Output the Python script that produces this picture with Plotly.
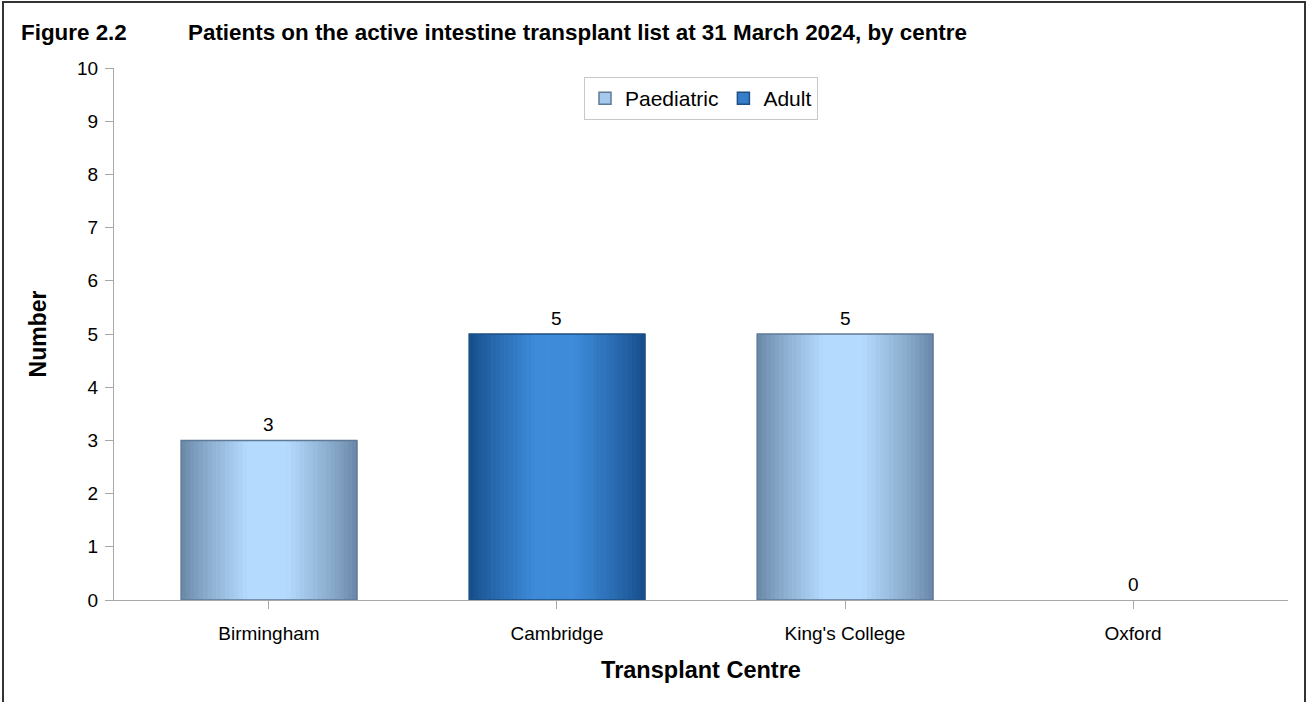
import plotly.graph_objects as go

# ---- data ----
centres = ["Birmingham", "Cambridge", "King's College", "Oxford"]
paediatric = [3, 0, 5, 0]
adult = [0, 5, 0, 0]
totals = [p + a for p, a in zip(paediatric, adult)]

title_num = "Figure 2.2"
title_txt = "Patients on the active intestine transplant list at 31 March 2024, by centre"

FONT = "Arial, 'Liberation Sans', sans-serif"
BAR_W = 0.61
N_SLICES = 40


def mix(c1, c2, t):
    return "rgb(%d,%d,%d)" % tuple(round(a + (b - a) * t) for a, b in zip(c1, c2))


def profile(u):
    # cylinder-like shading: dark edges, light band slightly left of centre
    lo, hi = 0.38, 0.60
    if u < lo:
        t = u / lo
    elif u > hi:
        t = (1 - u) / (1 - hi)
    else:
        t = 1.0
    return max(0.0, min(1.0, t)) ** 0.85


series = [
    dict(name="Paediatric", values=paediatric,
         edge=(104, 134, 166), centre=(180, 218, 253), line="#5f7a96"),
    dict(name="Adult", values=adult,
         edge=(20, 76, 136), centre=(62, 139, 218), line="#1d4f82"),
]

fig = go.Figure()

for s in series:
    sw = BAR_W / N_SLICES
    for i in range(N_SLICES):
        u = (i + 0.5) / N_SLICES
        fig.add_trace(go.Bar(
            x=centres, y=s["values"],
            width=sw * 1.15, offset=-BAR_W / 2 + i * sw,
            marker=dict(color=mix(s["edge"], s["centre"], profile(u)), line=dict(width=0)),
            showlegend=False, hoverinfo="skip",
        ))
    # outline
    fig.add_trace(go.Bar(
        x=centres, y=s["values"], width=BAR_W, offset=-BAR_W / 2,
        marker=dict(color="rgba(0,0,0,0)",
                    line=dict(width=1.5,
                              color=[s["line"] if v > 0 else "rgba(0,0,0,0)" for v in s["values"]])),
        showlegend=False, hoverinfo="skip",
    ))

# legend entries
for s in series:
    fig.add_trace(go.Bar(
        x=[None], y=[None], name=s["name"],
        marker=dict(color=mix(s["edge"], s["centre"], 0.8), line=dict(width=1.5, color=s["line"])),
    ))

# value labels
value_labels = [dict(x=c, y=t, text=str(t), xref="x", yref="y", showarrow=False,
                     yanchor="bottom", yshift=3, font=dict(family=FONT, size=19, color="black"))
                for c, t in zip(centres, totals)]

axis_col = "#a8a8a8"
fig.update_layout(
    width=1307, height=702,
    margin=dict(l=114, r=19, t=68, b=102),
    paper_bgcolor="white", plot_bgcolor="white",
    barmode="overlay",
    font=dict(family=FONT, color="black"),
    legend=dict(orientation="h", x=0.5, xanchor="center", y=0.983, yanchor="top",
                bgcolor="white", bordercolor="#c8c8c8", borderwidth=1,
                font=dict(size=21, family=FONT), itemwidth=30),
    xaxis=dict(type="category", range=[-0.538, 3.538], showline=True, linecolor=axis_col,
               linewidth=1, ticks="outside", ticklen=8, tickcolor=axis_col, showgrid=False,
               tickfont=dict(size=19, family=FONT), ticklabelstandoff=8,
               title=dict(text="<b>Transplant Centre</b>", font=dict(size=23.5, family=FONT), standoff=18)),
    yaxis=dict(range=[0, 10], dtick=1, showline=True, linecolor=axis_col, linewidth=1,
               ticks="outside", ticklen=8, tickcolor=axis_col, showgrid=False, zeroline=False,
               tickfont=dict(size=19, family=FONT), ticklabelstandoff=3,
               title=dict(text="<b>Number</b>", font=dict(size=23, family=FONT), standoff=24)),
    shapes=[dict(type="rect", xref="paper", yref="paper",
                 x0=(3 - 114) / 1174, x1=(1305 - 114) / 1174,
                 y0=-0.4, y1=(600 - 2) / 532,
                 line=dict(color="#333333", width=2), fillcolor="rgba(0,0,0,0)", layer="below")],
    annotations=[
        dict(text="<b>" + title_num + "</b>", xref="paper", yref="paper",
             x=(19 - 114) / 1174, y=(600 - 33) / 532, xanchor="left", yanchor="middle",
             showarrow=False, font=dict(size=22.4, family=FONT)),
        dict(text="<b>" + title_txt + "</b>", xref="paper", yref="paper",
             x=(186 - 114) / 1174, y=(600 - 33) / 532, xanchor="left", yanchor="middle",
             showarrow=False, font=dict(size=22.4, family=FONT)),
    ] + value_labels,
)

fig.write_html("out.html", config={"displayModeBar": False},
               post_script="document.body.style.margin='0';")
